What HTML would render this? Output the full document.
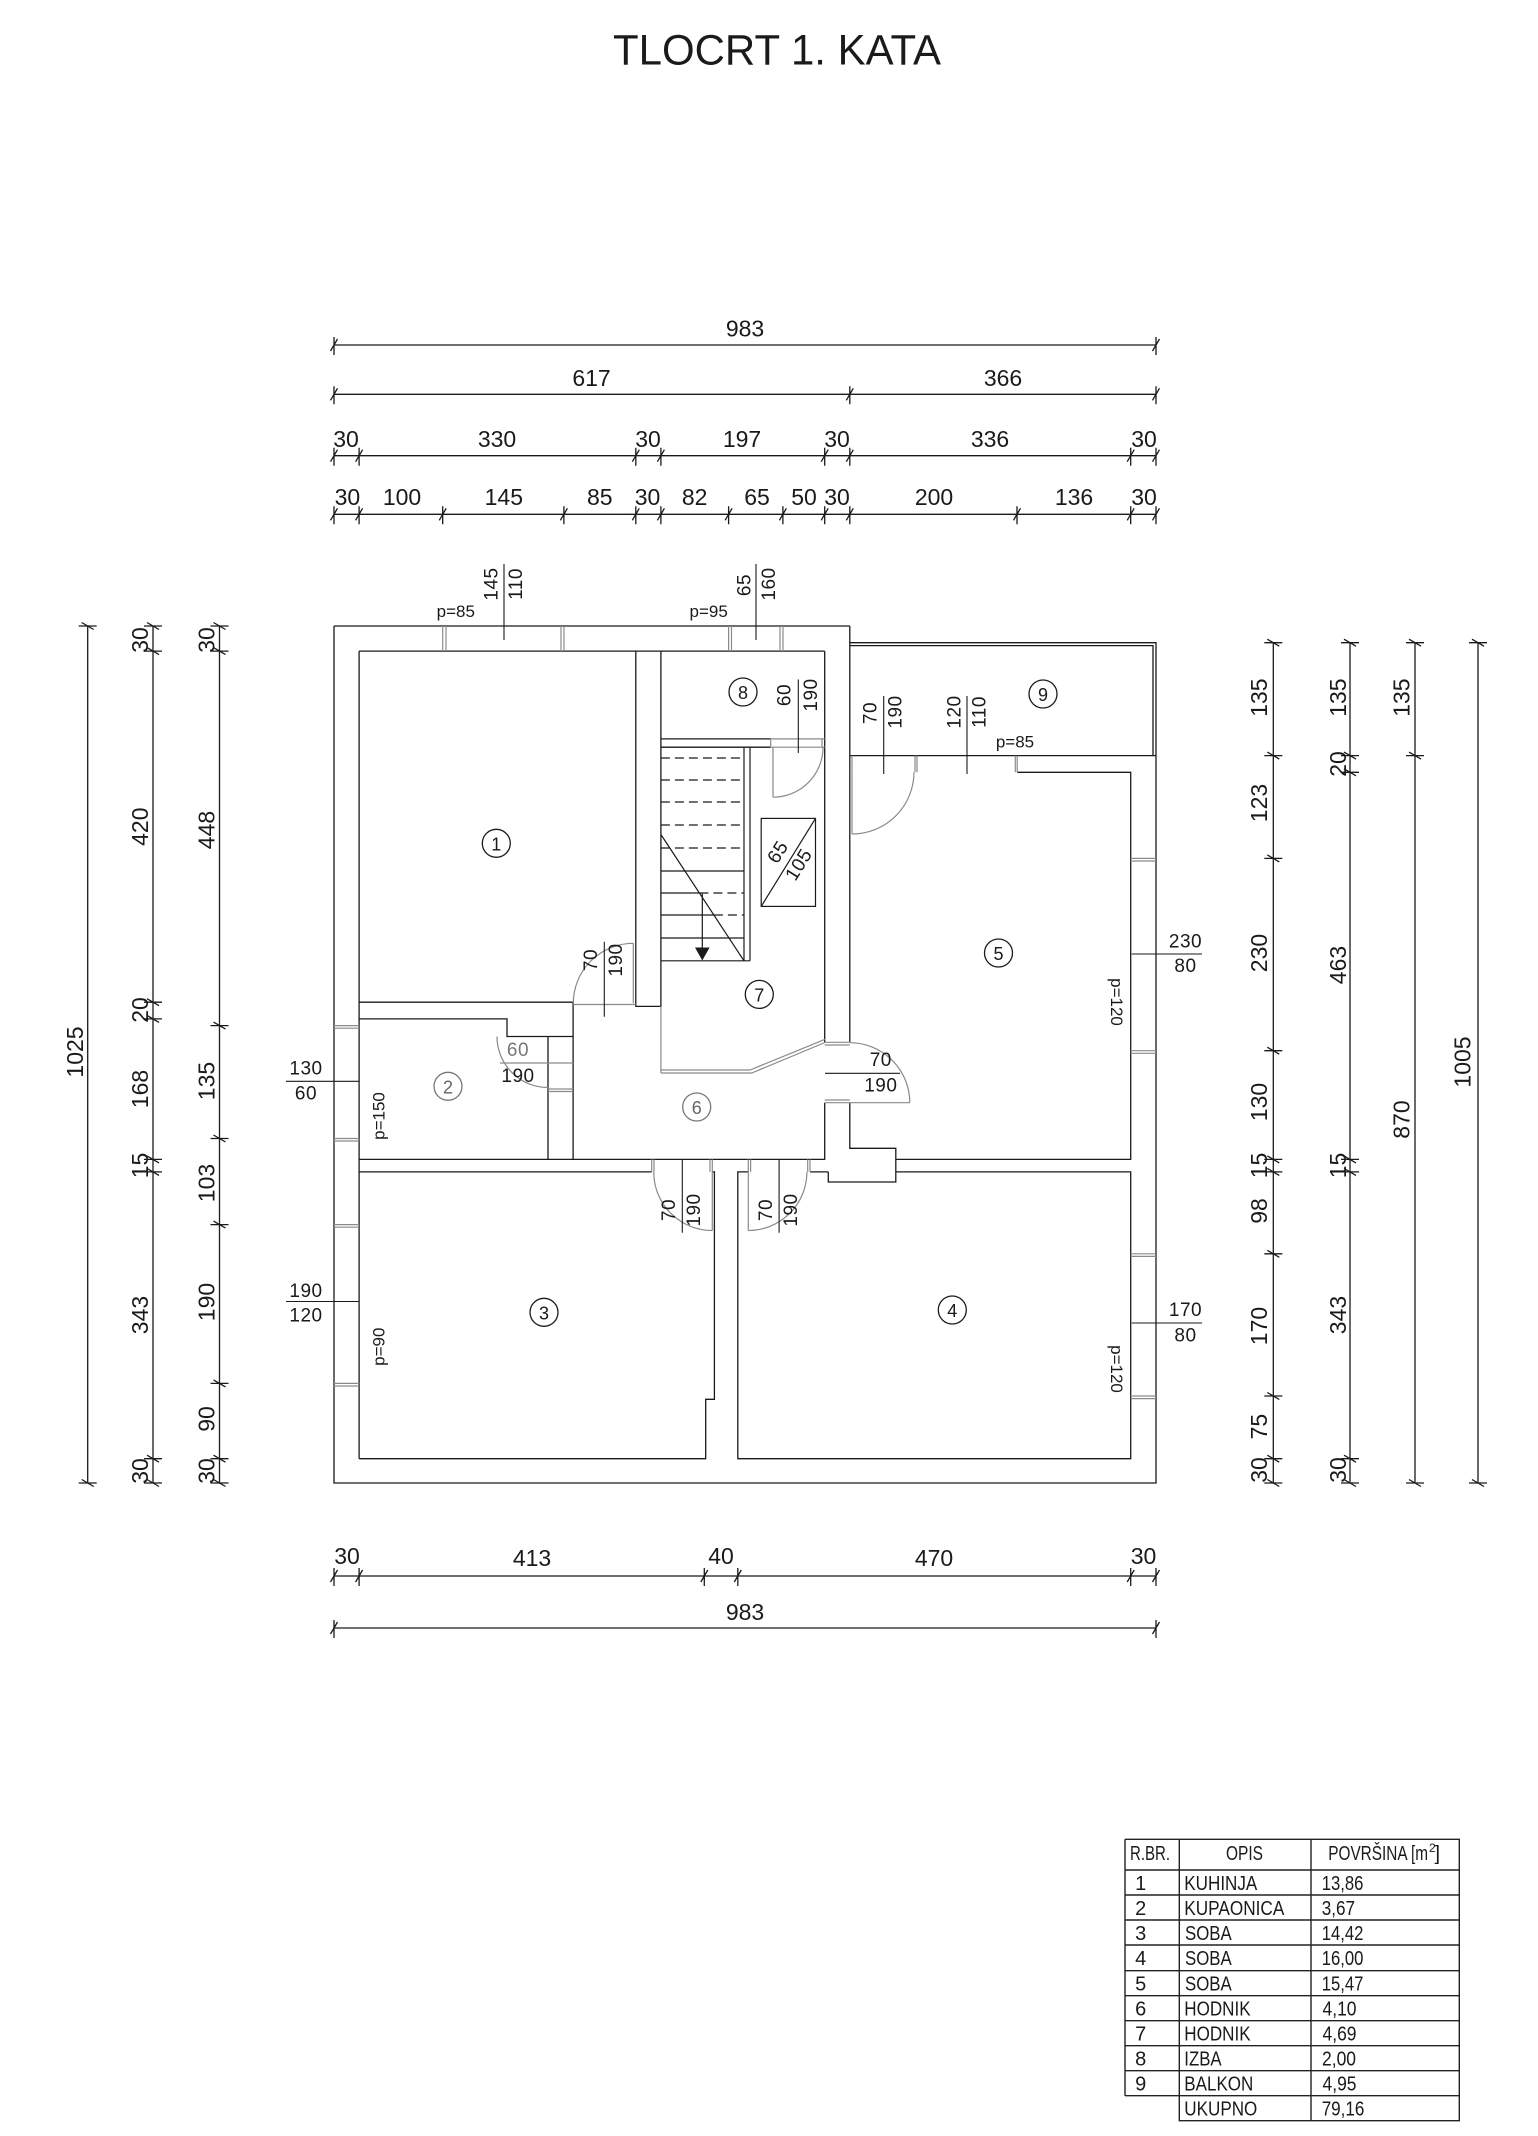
<!DOCTYPE html>
<html><head><meta charset="utf-8"><style>
html,body{margin:0;padding:0;background:#fff;}
svg{display:block;}
text{font-family:"Liberation Sans",Arial,sans-serif;fill:#1a1a1a;}
</style></head><body>
<svg width="1538" height="2136" viewBox="0 0 1538 2136" xmlns="http://www.w3.org/2000/svg">
<rect width="1538" height="2136" fill="#fff"/>
<text x="777" y="64.5" font-size="43" text-anchor="middle" textLength="328" lengthAdjust="spacingAndGlyphs">TLOCRT 1. KATA</text>

<!-- DIMENSION LINES -->
<g stroke="#1a1a1a" stroke-width="1.3" fill="none">
<path d="M334 345H1156M334 394.3H1156M334 455.7H1156M334 514.3H1156M334 1576H1156M334 1628H1156"/>
<path d="M87.7 626V1483M153 626V1483M219.5 626V1483M1273.3 642.7V1483M1350 642.7V1483M1415 642.7V1483M1478 642.7V1483"/>
<path d="M334 337v18M330.5 351l7-12M1156 337v18M1152.5 351l7-12
M334 386.3v18M330.5 400.3l7-12M849.8 386.3v18M846.3 400.3l7-12M1156 386.3v18M1152.5 400.3l7-12
M334 447.7v18M330.5 461.7l7-12M359.1 447.7v18M355.6 461.7l7-12M635.8 447.7v18M632.3 461.7l7-12M660.9 447.7v18M657.4 461.7l7-12M824.7 447.7v18M821.2 461.7l7-12M849.8 447.7v18M846.3 461.7l7-12M1130.7 447.7v18M1127.2 461.7l7-12M1156 447.7v18M1152.5 461.7l7-12
M334 506.3v18M330.5 520.3l7-12M359.1 506.3v18M355.6 520.3l7-12M442.7 506.3v18M439.2 520.3l7-12M563.9 506.3v18M560.4 520.3l7-12M635.8 506.3v18M632.3 520.3l7-12M660.9 506.3v18M657.4 520.3l7-12M728.6 506.3v18M725.1 520.3l7-12M782.9 506.3v18M779.4 520.3l7-12M824.7 506.3v18M821.2 520.3l7-12M849.8 506.3v18M846.3 520.3l7-12M1017 506.3v18M1013.5 520.3l7-12M1130.7 506.3v18M1127.2 520.3l7-12M1156 506.3v18M1152.5 520.3l7-12
M334 1568v18M330.5 1582l7-12M359.1 1568v18M355.6 1582l7-12M704.3 1568v18M700.8 1582l7-12M737.8 1568v18M734.3 1582l7-12M1130.7 1568v18M1127.2 1582l7-12M1156 1568v18M1152.5 1582l7-12
M334 1620v18M330.5 1634l7-12M1156 1620v18M1152.5 1634l7-12"/>
<path d="M78.7 626h18M81.7 622.5l12 7M78.7 1483h18M81.7 1479.5l12 7
M144 626h18M147 622.5l12 7M144 651.1h18M147 647.6l12 7M144 1002.2h18M147 998.7l12 7M144 1018.9h18M147 1015.4l12 7M144 1159.4h18M147 1155.9l12 7M144 1171.9h18M147 1168.4l12 7M144 1458.7h18M147 1455.2l12 7M144 1483h18M147 1479.5l12 7
M210.5 626h18M213.5 622.5l12 7M210.5 651.1h18M213.5 647.6l12 7M210.5 1025.6h18M213.5 1022.1l12 7M210.5 1138.5h18M213.5 1135l12 7M210.5 1224.6h18M213.5 1221.1l12 7M210.5 1383.4h18M213.5 1379.9l12 7M210.5 1458.7h18M213.5 1455.2l12 7M210.5 1483h18M213.5 1479.5l12 7
M1264.3 642.7h18M1267.3 639.2l12 7M1264.3 755.6h18M1267.3 752.1l12 7M1264.3 858.4h18M1267.3 854.9l12 7M1264.3 1050.7h18M1267.3 1047.2l12 7M1264.3 1159.4h18M1267.3 1155.9l12 7M1264.3 1171.9h18M1267.3 1168.4l12 7M1264.3 1253.8h18M1267.3 1250.3l12 7M1264.3 1396h18M1267.3 1392.5l12 7M1264.3 1458.7h18M1267.3 1455.2l12 7M1264.3 1483h18M1267.3 1479.5l12 7
M1341 642.7h18M1344 639.2l12 7M1341 755.6h18M1344 752.1l12 7M1341 772.3h18M1344 768.8l12 7M1341 1159.4h18M1344 1155.9l12 7M1341 1171.9h18M1344 1168.4l12 7M1341 1458.7h18M1344 1455.2l12 7M1341 1483h18M1344 1479.5l12 7
M1406 642.7h18M1409 639.2l12 7M1406 755.6h18M1409 752.1l12 7M1406 1483h18M1409 1479.5l12 7
M1469 642.7h18M1472 639.2l12 7M1469 1483h18M1472 1479.5l12 7"/>
</g>

<!-- DIMENSION TEXT -->
<g font-size="23" text-anchor="middle">
<text x="745" y="336.5">983</text>
<text x="591.5" y="386">617</text><text x="1003" y="386">366</text>
<text x="346" y="447">30</text><text x="497" y="447">330</text><text x="648" y="447">30</text><text x="742" y="447">197</text><text x="837" y="447">30</text><text x="990" y="447">336</text><text x="1144" y="447">30</text>
<text x="347.4" y="505">30</text><text x="402" y="505">100</text><text x="503.8" y="505">145</text><text x="599.8" y="505">85</text><text x="647.5" y="505">30</text><text x="694.7" y="505">82</text><text x="757" y="505">65</text><text x="804" y="505">50</text><text x="837" y="505">30</text><text x="934" y="505">200</text><text x="1074" y="505">136</text><text x="1144" y="505">30</text>
<text x="347" y="1564">30</text><text x="532" y="1566">413</text><text x="721" y="1564">40</text><text x="934" y="1566">470</text><text x="1143.5" y="1564">30</text>
<text x="745" y="1620">983</text>
</g>
<g font-size="23" text-anchor="middle" dominant-baseline="central">
<text transform="translate(75 1052) rotate(-90)">1025</text>
<text transform="translate(140 640) rotate(-90)">30</text>
<text transform="translate(140 826.7) rotate(-90)">420</text>
<text transform="translate(140 1010) rotate(-90)">20</text>
<text transform="translate(140 1089) rotate(-90)">168</text>
<text transform="translate(140 1165.5) rotate(-90)">15</text>
<text transform="translate(140 1315) rotate(-90)">343</text>
<text transform="translate(140 1471) rotate(-90)">30</text>
<text transform="translate(206.7 640) rotate(-90)">30</text>
<text transform="translate(206.7 830) rotate(-90)">448</text>
<text transform="translate(206.7 1081) rotate(-90)">135</text>
<text transform="translate(206.7 1183) rotate(-90)">103</text>
<text transform="translate(206.7 1302) rotate(-90)">190</text>
<text transform="translate(206.7 1419) rotate(-90)">90</text>
<text transform="translate(206.7 1471) rotate(-90)">30</text>
<text transform="translate(1259 697.6) rotate(-90)">135</text>
<text transform="translate(1259 803) rotate(-90)">123</text>
<text transform="translate(1259 953) rotate(-90)">230</text>
<text transform="translate(1259 1102) rotate(-90)">130</text>
<text transform="translate(1259 1165.5) rotate(-90)">15</text>
<text transform="translate(1259 1211) rotate(-90)">98</text>
<text transform="translate(1259 1326) rotate(-90)">170</text>
<text transform="translate(1259 1426.6) rotate(-90)">75</text>
<text transform="translate(1259 1470) rotate(-90)">30</text>
<text transform="translate(1338 697.6) rotate(-90)">135</text>
<text transform="translate(1338 764) rotate(-90)">20</text>
<text transform="translate(1338 965) rotate(-90)">463</text>
<text transform="translate(1338 1165.5) rotate(-90)">15</text>
<text transform="translate(1338 1315) rotate(-90)">343</text>
<text transform="translate(1338 1470) rotate(-90)">30</text>
<text transform="translate(1401.7 697.6) rotate(-90)">135</text>
<text transform="translate(1401.7 1119.5) rotate(-90)">870</text>
<text transform="translate(1462.5 1062) rotate(-90)">1005</text>
</g>

<!-- WALLS -->
<g stroke="#1a1a1a" stroke-width="1.3" fill="none">
<path d="M334 626H849.8M334 626V1483H1156V755.6"/>
<path d="M849.8 642.7H1156V755.6M849.8 645.6H1153V755.6M849.8 755.6H1156"/>
<path d="M849.8 626V1042.3M849.8 1102.7V1148.3H895.8V1182H828.3V1171.9"/>
<path d="M1017.2 772.3H1130.7V1159.4H895.8"/>
<path d="M895.8 1171.9H1130.7V1458.7H737.8V1171.9H748.3M810 1171.9H828.3"/>
<path d="M359.1 1171.9H651.7M712.3 1171.9H714.4V1399.3H705.7V1458.7H359.1"/>
<path d="M359.1 651.1V1458.7M359.1 651.1H824.7"/>
<path d="M824.7 651.1V1042.3M824.7 1102.7V1159.4H359.1"/>
<path d="M635.8 651.1V1006.4H660.9V651.1"/>
<path d="M359.1 1002.2H573.1M359.1 1018.9H507V1036.5H573.1M548 1036.5V1159.4M573.1 1002.2V1159.4"/>
<path d="M660.9 738.9H770.7M660.9 747.2H770.7"/>
</g>

<!-- STAIR -->
<g stroke="#1a1a1a" stroke-width="1.2" fill="none">
<path d="M744 747.2V960.8M750 747.2V960.8M660.9 960.8H750"/>
<path d="M660.9 871H744M660.9 938H744M660.9 893H699.4M660.9 915H713.9"/>
<path stroke-dasharray="9 5" d="M660.9 758H744M660.9 780H744M660.9 802H744M660.9 825H744M660.9 848H744M699.4 893H744M713.9 915H744"/>
<path d="M660.9 834.5L744 960.8M702.3 893.8V948"/>
<rect x="761.2" y="818.4" width="54.3" height="88"/>
<path d="M761.2 906.4L815.5 818.4"/>
</g>
<path d="M695 947.5L709.6 947.5L702.3 960.5Z" fill="#1a1a1a"/>

<!-- GRAY: jambs, doors -->
<g stroke="#8a8a8a" stroke-width="1.2" fill="none">
<path d="M442.7 626V651.1M446 626V651.1M561 626V651.1M564 626V651.1M728.6 626V651.1M731.5 626V651.1M780 626V651.1M783 626V651.1"/>
<path d="M334 1025.6H359.1M334 1028.2H359.1M334 1138.5H359.1M334 1141H359.1M334 1224.6H359.1M334 1227.2H359.1M334 1383.4H359.1M334 1386H359.1"/>
<path d="M1130.7 858.4H1156M1130.7 861H1156M1130.7 1050.7H1156M1130.7 1053.3H1156M1130.7 1253.8H1156M1130.7 1256.4H1156M1130.7 1396H1156M1130.7 1398.6H1156"/>
<path d="M852 755.6V772.3M915 755.6V772.3M917 755.6V772.3M1015.3 755.6V772.3M1017.2 755.6V772.3"/>
<path d="M824.7 1042.3H849.8M824.7 1045H849.8M824.7 1100H849.8M824.7 1102.7H849.8"/>
<path d="M651.7 1159.4V1171.9M654 1159.4V1171.9M710 1159.4V1171.9M712.3 1159.4V1171.9M748.3 1159.4V1171.9M750.6 1159.4V1171.9M807.7 1159.4V1171.9M810 1159.4V1171.9"/>
<path d="M548 1063H573.1M548 1089H573.1M548 1091.5H573.1M500 1063H548"/>
<path d="M573.1 1004.5H635.8M770.7 738.9H824.7M770.7 747.2H824.7M770.7 738.9V747.2M822 738.9V747.2"/>
<path d="M660.9 1006.4V1073M660.9 1070H750L825 1039.3M660.9 1073H751.7L825 1042.5"/>
<path d="M633.3 1003.3V943.3M633.3 943.3A60 60 0 0 0 573.3 1003.3"/>
<path d="M497 1036.5A51 51 0 0 0 548 1087.5"/>
<path d="M773 747.2V797.2M773 797.2A50 50 0 0 0 823 747.2"/>
<path d="M849.8 1102.7H909.8M909.8 1102.7A60 60 0 0 0 849.8 1042.7"/>
<path d="M852 772.3V834M852 834A62 62 0 0 0 914 772.3"/>
<path d="M712.3 1171.9V1230.5M712.3 1230.5A58.6 58.6 0 0 1 653.7 1171.9"/>
<path d="M748.3 1171.9V1230.5M748.3 1230.5A58.6 58.6 0 0 0 806.9 1171.9"/>
</g>

<!-- LABEL LINES -->
<g stroke="#1a1a1a" stroke-width="1.1" fill="none">
<path d="M504 564V640M756 564V640M883.7 696V774M967 696V774M798.3 679.5V753M604.3 941.7V1016.7M682.3 1159V1232.7M779.1 1159V1232.7M825 1073.3H900M286 1081.3H359M286 1301.5H359M1131.7 954H1202M1131.7 1323H1202"/>
</g>

<!-- FRACTION LABELS -->
<g font-size="19" text-anchor="middle" dominant-baseline="central" letter-spacing="0.5">
<text transform="translate(492 584) rotate(-90)">145</text>
<text transform="translate(516.5 584) rotate(-90)">110</text>
<text transform="translate(745 585) rotate(-90)">65</text>
<text transform="translate(769.6 584) rotate(-90)">160</text>
<text transform="translate(871 713) rotate(-90)">70</text>
<text transform="translate(896 712) rotate(-90)">190</text>
<text transform="translate(955 712) rotate(-90)">120</text>
<text transform="translate(980 712) rotate(-90)">110</text>
<text transform="translate(785 695) rotate(-90)">60</text>
<text transform="translate(811.5 695) rotate(-90)">190</text>
<text transform="translate(591.7 960) rotate(-90)">70</text>
<text transform="translate(616.7 960) rotate(-90)">190</text>
<text transform="translate(669.5 1210) rotate(-90)">70</text>
<text transform="translate(694.5 1210) rotate(-90)">190</text>
<text transform="translate(766.5 1210) rotate(-90)">70</text>
<text transform="translate(791.7 1210) rotate(-90)">190</text>
<text transform="translate(778.4 852.5) rotate(-58)">65</text>
<text transform="translate(799.4 865) rotate(-58)">105</text>
<text x="880.8" y="1060.6">70</text><text x="880.8" y="1086">190</text>
<text x="518" y="1050.7" style="fill:#777">60</text><text x="518" y="1076.4">190</text>
<text x="306" y="1069">130</text><text x="306" y="1094">60</text>
<text x="306" y="1291.5">190</text><text x="306" y="1316">120</text>
<text x="1185.5" y="942">230</text><text x="1185.5" y="966.5">80</text>
<text x="1185.5" y="1310.6">170</text><text x="1185.5" y="1336">80</text>
</g>

<!-- SMALL LABELS -->
<g font-size="17" text-anchor="middle">
<text x="455.8" y="617">p=85</text>
<text x="708.7" y="617">p=95</text>
<text x="1015" y="747.5">p=85</text>
</g>
<g font-size="17" text-anchor="middle" dominant-baseline="central">
<text transform="translate(379 1116) rotate(-90)">p=150</text>
<text transform="translate(379 1346.7) rotate(-90)">p=90</text>
<text transform="translate(1116.7 1002) rotate(90)">p=120</text>
<text transform="translate(1116.7 1369) rotate(90)">p=120</text>
</g>

<!-- ROOM CIRCLES -->
<g stroke="#1a1a1a" stroke-width="1.3" fill="none">
<circle cx="496.3" cy="843.3" r="14"/>
<circle cx="544" cy="1312.3" r="14"/>
<circle cx="952.3" cy="1310" r="14"/>
<circle cx="998.5" cy="953" r="14"/>
<circle cx="759.3" cy="994.4" r="14"/>
<circle cx="743" cy="692" r="14"/>
<circle cx="1043" cy="694" r="14"/>
</g>
<g stroke="#777" stroke-width="1.3" fill="none">
<circle cx="448" cy="1086.3" r="14"/>
<circle cx="696.7" cy="1107" r="14"/>
</g>
<g font-size="18" text-anchor="middle" dominant-baseline="central">
<text x="496.3" y="844.3">1</text>
<text x="448" y="1087.3" style="fill:#666">2</text>
<text x="544" y="1313.3">3</text>
<text x="952.3" y="1311">4</text>
<text x="998.5" y="954">5</text>
<text x="696.7" y="1108" style="fill:#666">6</text>
<text x="759.3" y="995.4">7</text>
<text x="743" y="693">8</text>
<text x="1043" y="695">9</text>
</g>

<!-- TABLE -->
<g stroke="#222" stroke-width="1.4" fill="none">
<path d="M1125 1839.3H1459.3V2120.7H1179.3V1839.3M1125 1839.3V2095.7M1311 1839.3V2120.7"/>
<path d="M1125 1870H1459.3M1125 1895H1459.3M1125 1920H1459.3M1125 1945H1459.3M1125 1970.7H1459.3M1125 1995.7H1459.3M1125 2020.7H1459.3M1125 2045.7H1459.3M1125 2070.7H1459.3M1125 2095.7H1459.3"/>
</g>
<g font-size="20">
<text x="1130" y="1860" textLength="40" lengthAdjust="spacingAndGlyphs">R.BR.</text>
<text x="1226" y="1860" textLength="37" lengthAdjust="spacingAndGlyphs">OPIS</text>
<text x="1328.3" y="1860" textLength="99.7" lengthAdjust="spacingAndGlyphs">POVRŠINA [m</text>
<text x="1429" y="1852" font-size="12">2</text>
<text x="1434.5" y="1860" font-size="20">]</text>
</g>
<g font-size="20" text-anchor="middle">
<text x="1140.7" y="1890">1</text>
<text x="1140.7" y="1915">2</text>
<text x="1140.7" y="1940">3</text>
<text x="1140.7" y="1965">4</text>
<text x="1140.7" y="1990.5">5</text>
<text x="1140.7" y="2015.5">6</text>
<text x="1140.7" y="2040.5">7</text>
<text x="1140.7" y="2065.5">8</text>
<text x="1140.7" y="2090.5">9</text>
</g>
<g font-size="20">
<text x="1184.3" y="1890" textLength="73" lengthAdjust="spacingAndGlyphs">KUHINJA</text>
<text x="1184.3" y="1915" textLength="100" lengthAdjust="spacingAndGlyphs">KUPAONICA</text>
<text x="1185" y="1940" textLength="46.7" lengthAdjust="spacingAndGlyphs">SOBA</text>
<text x="1185" y="1965" textLength="46.7" lengthAdjust="spacingAndGlyphs">SOBA</text>
<text x="1185" y="1990.5" textLength="46.7" lengthAdjust="spacingAndGlyphs">SOBA</text>
<text x="1184.3" y="2015.5" textLength="66.3" lengthAdjust="spacingAndGlyphs">HODNIK</text>
<text x="1184.3" y="2040.5" textLength="66.3" lengthAdjust="spacingAndGlyphs">HODNIK</text>
<text x="1184.3" y="2065.5" textLength="37.3" lengthAdjust="spacingAndGlyphs">IZBA</text>
<text x="1184.3" y="2090.5" textLength="69" lengthAdjust="spacingAndGlyphs">BALKON</text>
<text x="1184.3" y="2115.5" textLength="73" lengthAdjust="spacingAndGlyphs">UKUPNO</text>
<text x="1321.7" y="1890" textLength="41.7" lengthAdjust="spacingAndGlyphs">13,86</text>
<text x="1321.7" y="1915" textLength="33.3" lengthAdjust="spacingAndGlyphs">3,67</text>
<text x="1321.7" y="1940" textLength="41.7" lengthAdjust="spacingAndGlyphs">14,42</text>
<text x="1321.7" y="1965" textLength="41.7" lengthAdjust="spacingAndGlyphs">16,00</text>
<text x="1321.7" y="1990.5" textLength="41.7" lengthAdjust="spacingAndGlyphs">15,47</text>
<text x="1322.5" y="2015.5" textLength="34" lengthAdjust="spacingAndGlyphs">4,10</text>
<text x="1322.5" y="2040.5" textLength="34" lengthAdjust="spacingAndGlyphs">4,69</text>
<text x="1322" y="2065.5" textLength="34" lengthAdjust="spacingAndGlyphs">2,00</text>
<text x="1322.5" y="2090.5" textLength="34" lengthAdjust="spacingAndGlyphs">4,95</text>
<text x="1321.7" y="2115.5" textLength="42.7" lengthAdjust="spacingAndGlyphs">79,16</text>
</g>
</svg>
</body></html>
